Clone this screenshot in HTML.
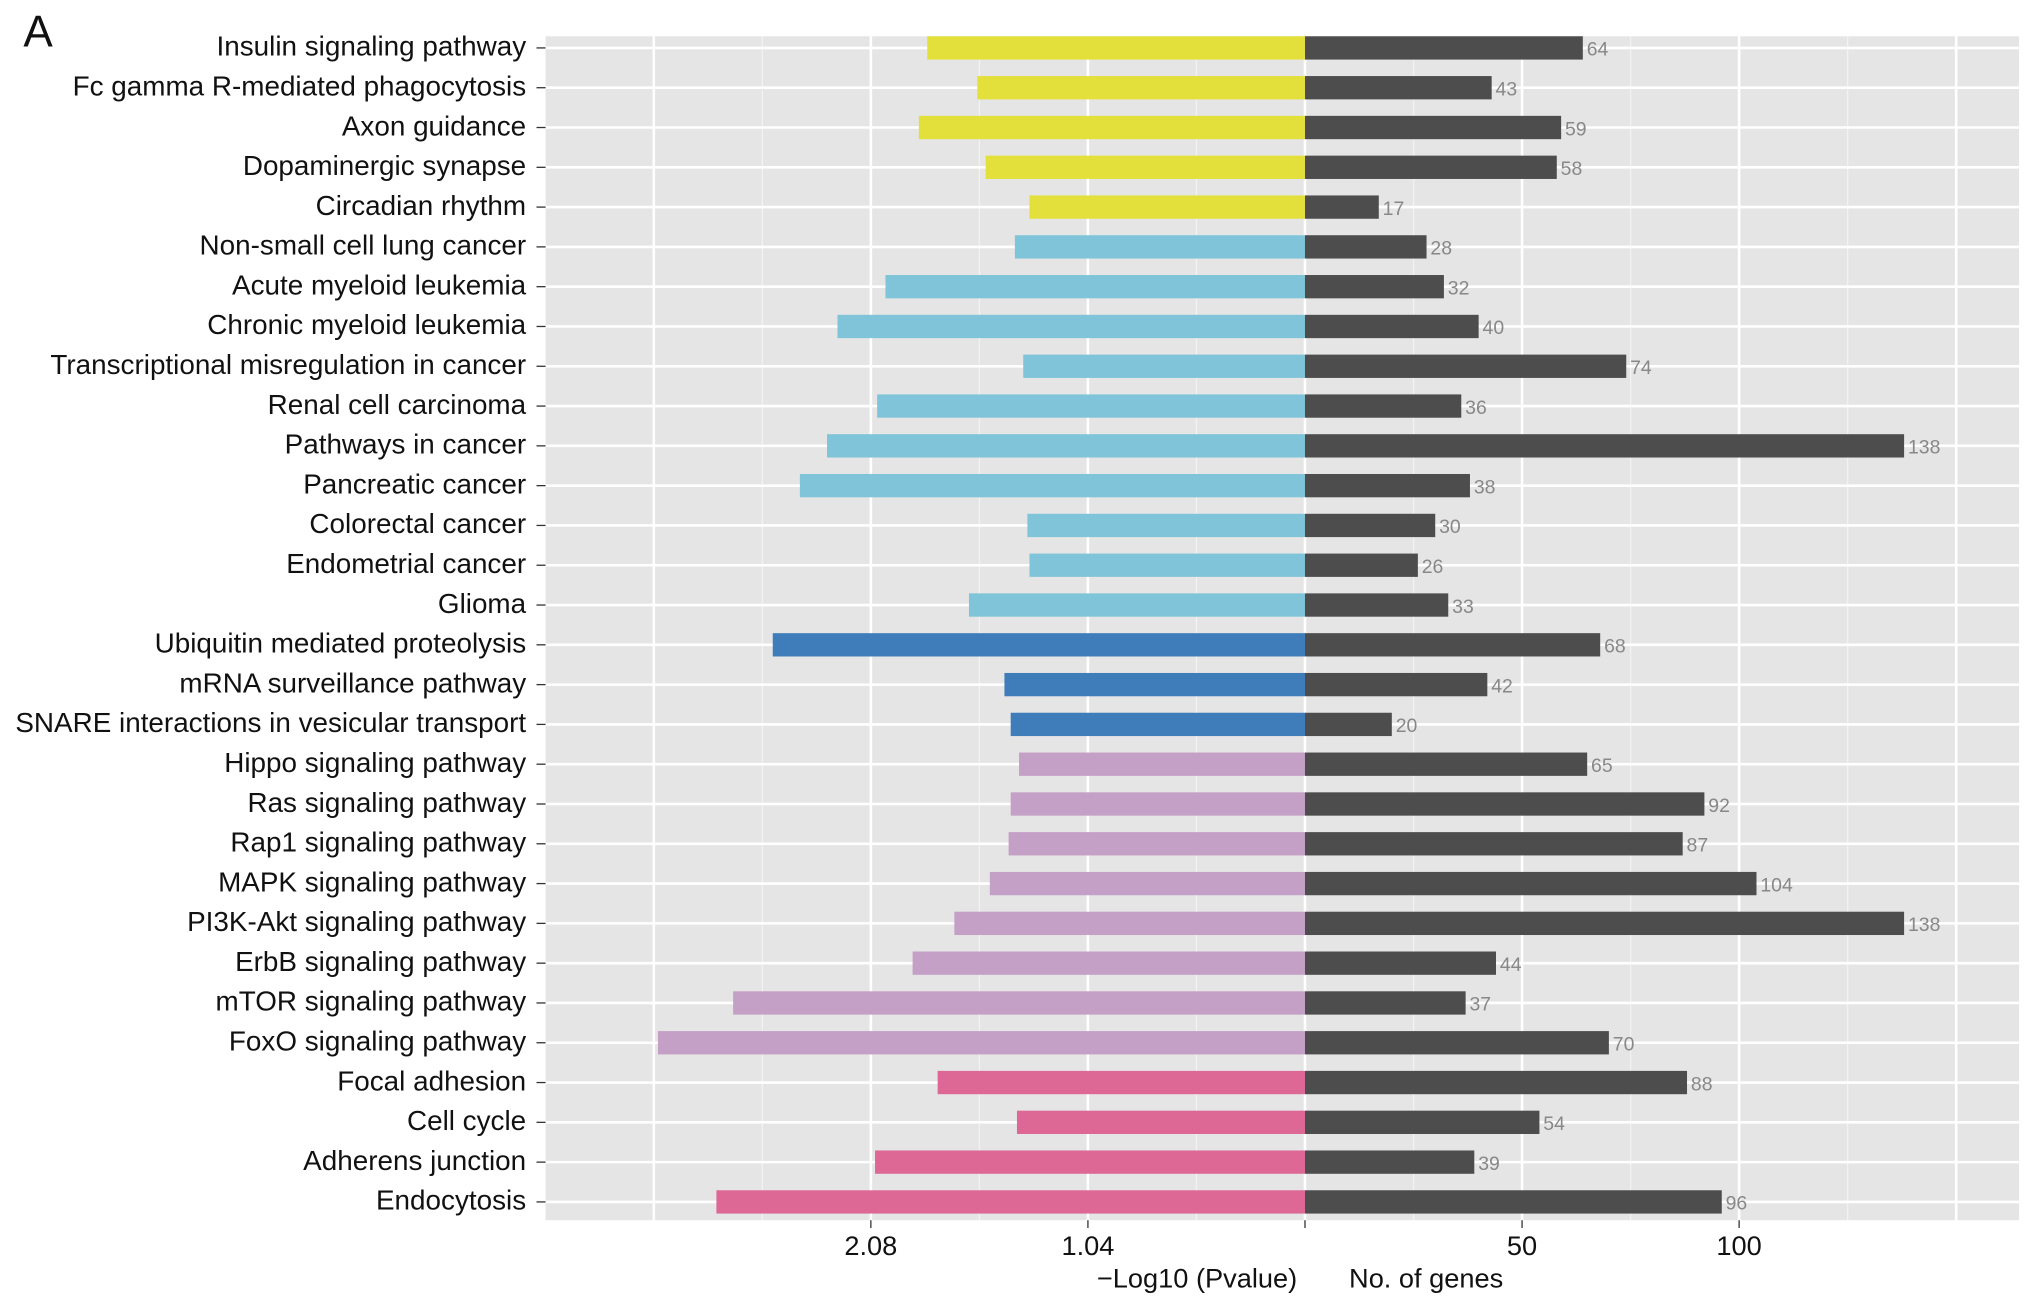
<!DOCTYPE html>
<html><head><meta charset="utf-8"><style>
html,body{margin:0;padding:0;background:#fff}
svg{display:block}
text{font-family:"Liberation Sans",Arial,sans-serif}
</style></head><body>
<svg id="chart" width="2032" height="1307" viewBox="0 0 1568 1009" preserveAspectRatio="none" xmlns="http://www.w3.org/2000/svg">
<text x="18" y="36" font-size="34" fill="#111">A</text>
<rect x="421" y="28" width="1137" height="914" fill="#e5e5e5"/>
<g id="grid"></g><g id="bars"></g><g id="labels"></g><g id="axes"></g>
<text x="1001" y="994" font-size="21" text-anchor="end" fill="#111">−Log10 (Pvalue)</text>
<text x="1041" y="994" font-size="21" fill="#111">No. of genes</text>
</svg>
<script>
const categories=["Insulin signaling pathway","Fc gamma R-mediated phagocytosis","Axon guidance","Dopaminergic synapse","Circadian rhythm","Non-small cell lung cancer","Acute myeloid leukemia","Chronic myeloid leukemia","Transcriptional misregulation in cancer","Renal cell carcinoma","Pathways in cancer","Pancreatic cancer","Colorectal cancer","Endometrial cancer","Glioma","Ubiquitin mediated proteolysis","mRNA surveillance pathway","SNARE interactions in vesicular transport","Hippo signaling pathway","Ras signaling pathway","Rap1 signaling pathway","MAPK signaling pathway","PI3K-Akt signaling pathway","ErbB signaling pathway","mTOR signaling pathway","FoxO signaling pathway","Focal adhesion","Cell cycle","Adherens junction","Endocytosis"];
const pvalues=[1.81,1.57,1.85,1.53,1.32,1.39,2.01,2.24,1.35,2.05,2.29,2.42,1.33,1.32,1.61,2.55,1.44,1.41,1.37,1.41,1.42,1.51,1.68,1.88,2.74,3.10,1.76,1.38,2.06,2.82];
const genes=[64,43,59,58,17,28,32,40,74,36,138,38,30,26,33,68,42,20,65,92,87,104,138,44,37,70,88,54,39,96];
const groups=[0,0,0,0,0,1,1,1,1,1,1,1,1,1,1,2,2,2,3,3,3,3,3,3,3,3,4,4,4,4];
const groupColors=["#e3e03c","#7fc4d8","#3f7dba","#c49fc6","#dd6896"];
const leftTicks=[2.08,1.04];
const rightTicks=[50,100];
const NS="http://www.w3.org/2000/svg";
const cx=1007;
function xP(v){return cx-v*(335/2.08);}
function xG(v){return cx+v*(335/100);}
function yR(i){return 37+i*30.72;}
function mk(tag,attrs,parent){const e=document.createElementNS(NS,tag);for(const k in attrs)e.setAttribute(k,attrs[k]);document.getElementById(parent).appendChild(e);return e;}
[1.04*0.5,1.04*1.5,1.04*2.5].forEach(v=>{const l=mk('line',{x1:xP(v),x2:xP(v),y1:28,y2:942,stroke:'#f2f2f2','stroke-width':1},'grid');});
[25,75,125].forEach(v=>{const l=mk('line',{x1:xG(v),x2:xG(v),y1:28,y2:942,stroke:'#f2f2f2','stroke-width':1},'grid');});
[3.12,2.08,1.04].forEach(v=>{const l=mk('line',{x1:xP(v),x2:xP(v),y1:28,y2:942,stroke:'#fff','stroke-width':2},'grid');});
[0,50,100,150].forEach(v=>{const l=mk('line',{x1:xG(v),x2:xG(v),y1:28,y2:942,stroke:'#fff','stroke-width':2},'grid');});
categories.forEach((c,i)=>{const y=yR(i);
const g=mk('line',{x1:421,x2:1558,y1:y,y2:y,stroke:'#fff','stroke-width':2},'grid');
const b=mk('rect',{x:xP(pvalues[i]),y:y-9,width:cx-xP(pvalues[i]),height:18,fill:groupColors[groups[i]]},'bars');

const r=mk('rect',{x:cx,y:y-9,width:xG(genes[i])-cx,height:18,fill:'#4d4d4d'},'bars');

const t=mk('text',{x:xG(genes[i])+3,y:y+6,'font-size':15,fill:'#888'},'bars');t.textContent=genes[i];

const lb=mk('text',{x:406,y:y+6,'font-size':21.5,'text-anchor':'end',fill:'#111'},'labels');lb.textContent=c;

const tk=mk('line',{x1:414,x2:421,y1:y,y2:y,stroke:'#333','stroke-width':1},'axes');
});
leftTicks.forEach(v=>{const x=xP(v);const tk=mk('line',{x1:x,x2:x,y1:942,y2:948,stroke:'#333'},'axes');
const t=mk('text',{x:x,y:969,'font-size':21,'text-anchor':'middle',fill:'#111'},'axes');t.textContent=v.toFixed(2);});
{const tk=mk('line',{x1:cx,x2:cx,y1:942,y2:948,stroke:'#333'},'axes');}
rightTicks.forEach(v=>{const x=xG(v);const tk=mk('line',{x1:x,x2:x,y1:942,y2:948,stroke:'#333'},'axes');
const t=mk('text',{x:x,y:969,'font-size':21,'text-anchor':'middle',fill:'#111'},'axes');t.textContent=v;});
</script>
</body></html>
